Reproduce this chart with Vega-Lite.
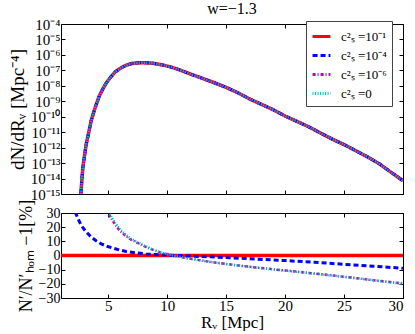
{
  "$schema": "https://vega.github.io/schema/vega-lite/v6.json",
  "padding": {"left": 7, "top": 0, "right": 2, "bottom": 0},
  "spacing": 19,
  "bounds": "flush",
  "config": {
    "font": "Liberation Serif",
    "view": {"stroke": "black", "strokeWidth": 1},
    "axis": {"domain": false, "grid": false, "tickSize": -4, "tickColor": "black", "labelFont": "Liberation Serif", "labelFontSize": 15, "labelColor": "black", "titleFont": "Liberation Serif", "titleFontSize": 18, "titleFontWeight": "normal", "titleColor": "black", "labelOverlap": false, "labelPadding": 5, "minExtent": 0},
    "legend": {"labelFont": "Liberation Serif", "labelFontSize": 13, "labelColor": "black"}
  },
  "datasets": {
    "top": [
      {"x": 2.68, "dn": 1e-15}, {"x": 2.85, "dn": 5.01e-14}, {"x": 3.0, "dn": 3.16e-13}, {"x": 3.14, "dn": 1.70e-12},
      {"x": 3.36, "dn": 1e-11}, {"x": 3.56, "dn": 5.62e-11}, {"x": 3.8, "dn": 2.24e-10}, {"x": 4.0, "dn": 6.61e-10},
      {"x": 4.25, "dn": 2.24e-9}, {"x": 4.55, "dn": 6.31e-9}, {"x": 4.85, "dn": 1.58e-8}, {"x": 5.2, "dn": 3.55e-8},
      {"x": 5.6, "dn": 7.94e-8}, {"x": 6.0, "dn": 1.32e-7}, {"x": 6.5, "dn": 2.09e-7}, {"x": 7.0, "dn": 2.75e-7},
      {"x": 7.6, "dn": 3.16e-7}, {"x": 8.2, "dn": 3.16e-7}, {"x": 8.8, "dn": 2.88e-7}, {"x": 9.5, "dn": 2.34e-7},
      {"x": 10.2, "dn": 1.74e-7}, {"x": 11.0, "dn": 1.12e-7}, {"x": 12.0, "dn": 5.62e-8}, {"x": 13.0, "dn": 3.02e-8},
      {"x": 14.0, "dn": 1.58e-8}, {"x": 15.0, "dn": 7.94e-9}, {"x": 16.0, "dn": 3.55e-9}, {"x": 17.0, "dn": 1.41e-9},
      {"x": 18.0, "dn": 6.31e-10}, {"x": 19.0, "dn": 2.82e-10}, {"x": 20.0, "dn": 1.12e-10}, {"x": 21.0, "dn": 5.01e-11},
      {"x": 22.0, "dn": 2.24e-11}, {"x": 23.0, "dn": 8.91e-12}, {"x": 24.0, "dn": 3.55e-12}, {"x": 25.0, "dn": 1.58e-12},
      {"x": 26.0, "dn": 6.31e-13}, {"x": 27.0, "dn": 2.51e-13}, {"x": 28.0, "dn": 8.91e-14}, {"x": 29.0, "dn": 2.51e-14},
      {"x": 30.0, "dn": 7.24e-15}
    ],
    "bot": [
      {"s": "c²ₛ =10⁻¹", "x": 1, "p": 0}, {"s": "c²ₛ =10⁻¹", "x": 30, "p": 0},
      {"s": "c²ₛ =10⁻⁴", "x": 2.0, "p": 36}, {"s": "c²ₛ =10⁻⁴", "x": 2.23, "p": 30}, {"s": "c²ₛ =10⁻⁴", "x": 2.5, "p": 25},
      {"s": "c²ₛ =10⁻⁴", "x": 2.71, "p": 21.3}, {"s": "c²ₛ =10⁻⁴", "x": 3.1, "p": 17}, {"s": "c²ₛ =10⁻⁴", "x": 3.56, "p": 13},
      {"s": "c²ₛ =10⁻⁴", "x": 4.0, "p": 10.3}, {"s": "c²ₛ =10⁻⁴", "x": 4.41, "p": 8.2}, {"s": "c²ₛ =10⁻⁴", "x": 4.9, "p": 6.5},
      {"s": "c²ₛ =10⁻⁴", "x": 5.4, "p": 5.2}, {"s": "c²ₛ =10⁻⁴", "x": 6.0, "p": 3.8}, {"s": "c²ₛ =10⁻⁴", "x": 6.53, "p": 2.8},
      {"s": "c²ₛ =10⁻⁴", "x": 7.3, "p": 1.9}, {"s": "c²ₛ =10⁻⁴", "x": 8.2, "p": 1.1}, {"s": "c²ₛ =10⁻⁴", "x": 9.0, "p": 0.7},
      {"s": "c²ₛ =10⁻⁴", "x": 9.9, "p": 0.35}, {"s": "c²ₛ =10⁻⁴", "x": 10.7, "p": 0}, {"s": "c²ₛ =10⁻⁴", "x": 12.2, "p": -0.5},
      {"s": "c²ₛ =10⁻⁴", "x": 13.5, "p": -0.9}, {"s": "c²ₛ =10⁻⁴", "x": 15, "p": -1.5}, {"s": "c²ₛ =10⁻⁴", "x": 17.5, "p": -2.5},
      {"s": "c²ₛ =10⁻⁴", "x": 20, "p": -3.6}, {"s": "c²ₛ =10⁻⁴", "x": 22.5, "p": -4.8}, {"s": "c²ₛ =10⁻⁴", "x": 25, "p": -6.2},
      {"s": "c²ₛ =10⁻⁴", "x": 27.5, "p": -7.6}, {"s": "c²ₛ =10⁻⁴", "x": 30, "p": -9.0},
      {"s": "c²ₛ =10⁻⁶", "x": 4.75, "p": 34}, {"s": "c²ₛ =10⁻⁶", "x": 4.97, "p": 30}, {"s": "c²ₛ =10⁻⁶", "x": 5.5, "p": 23},
      {"s": "c²ₛ =10⁻⁶", "x": 5.96, "p": 17.7}, {"s": "c²ₛ =10⁻⁶", "x": 6.4, "p": 14.5}, {"s": "c²ₛ =10⁻⁶", "x": 6.81, "p": 11.8},
      {"s": "c²ₛ =10⁻⁶", "x": 7.4, "p": 9.2}, {"s": "c²ₛ =10⁻⁶", "x": 7.94, "p": 7.1}, {"s": "c²ₛ =10⁻⁶", "x": 8.6, "p": 4.6},
      {"s": "c²ₛ =10⁻⁶", "x": 9.35, "p": 2.3}, {"s": "c²ₛ =10⁻⁶", "x": 10.0, "p": 1.0}, {"s": "c²ₛ =10⁻⁶", "x": 10.5, "p": 0},
      {"s": "c²ₛ =10⁻⁶", "x": 11.3, "p": -1.3}, {"s": "c²ₛ =10⁻⁶", "x": 12.2, "p": -2.6}, {"s": "c²ₛ =10⁻⁶", "x": 13.5, "p": -4.3},
      {"s": "c²ₛ =10⁻⁶", "x": 15, "p": -6.0}, {"s": "c²ₛ =10⁻⁶", "x": 17.5, "p": -8.4}, {"s": "c²ₛ =10⁻⁶", "x": 20, "p": -10.6},
      {"s": "c²ₛ =10⁻⁶", "x": 22.5, "p": -12.7}, {"s": "c²ₛ =10⁻⁶", "x": 25, "p": -15.0}, {"s": "c²ₛ =10⁻⁶", "x": 27.5, "p": -17.4},
      {"s": "c²ₛ =10⁻⁶", "x": 30, "p": -19.8},
      {"s": "c²ₛ =0", "x": 4.85, "p": 34}, {"s": "c²ₛ =0", "x": 5.08, "p": 30}, {"s": "c²ₛ =0", "x": 5.6, "p": 23},
      {"s": "c²ₛ =0", "x": 6.05, "p": 18}, {"s": "c²ₛ =0", "x": 6.5, "p": 14.7}, {"s": "c²ₛ =0", "x": 6.9, "p": 12},
      {"s": "c²ₛ =0", "x": 7.5, "p": 9.3}, {"s": "c²ₛ =0", "x": 8.0, "p": 7.2}, {"s": "c²ₛ =0", "x": 8.7, "p": 4.6},
      {"s": "c²ₛ =0", "x": 9.4, "p": 2.3}, {"s": "c²ₛ =0", "x": 10.0, "p": 1.0}, {"s": "c²ₛ =0", "x": 10.5, "p": 0},
      {"s": "c²ₛ =0", "x": 11.3, "p": -1.4}, {"s": "c²ₛ =0", "x": 12.2, "p": -2.7}, {"s": "c²ₛ =0", "x": 13.5, "p": -4.4},
      {"s": "c²ₛ =0", "x": 15, "p": -6.1}, {"s": "c²ₛ =0", "x": 17.5, "p": -8.5}, {"s": "c²ₛ =0", "x": 20, "p": -10.7},
      {"s": "c²ₛ =0", "x": 22.5, "p": -12.8}, {"s": "c²ₛ =0", "x": 25, "p": -15.1}, {"s": "c²ₛ =0", "x": 27.5, "p": -17.5},
      {"s": "c²ₛ =0", "x": 30, "p": -20.0}
    ]
  },
  "vconcat": [
    {
      "width": 342,
      "height": 170,
      "title": {"text": "w=−1.3", "fontSize": 16, "font": "Liberation Serif", "fontWeight": "normal", "color": "black", "offset": 0, "anchor": "middle"},
      "data": {"name": "top"},
      "layer": [
        {
          "mark": {"type": "line", "color": "#ff0000", "strokeWidth": 3.5, "clip": true},
          "encoding": {
            "x": {"field": "x", "type": "quantitative", "scale": {"domain": [1, 30], "nice": false}, "axis": {"orient": "bottom", "labels": false, "title": null, "values": [5, 10, 15, 20, 25, 30]}},
            "y": {"field": "dn", "type": "quantitative", "scale": {"type": "log", "domain": [1e-15, 1e-4], "nice": false}, "axis": {"orient": "left", "title": "dN/dRᵥ [Mpc⁻⁴]", "titleFontSize": 19, "titlePadding": 3, "values": [1e-15, 1e-14, 1e-13, 1e-12, 1e-11, 1e-10, 1e-9, 1e-8, 1e-7, 1e-6, 1e-5, 1e-4], "labelExpr": "'10' + ['⁰','⁻¹','⁻²','⁻³','⁻⁴','⁻⁵','⁻⁶','⁻⁷','⁻⁸','⁻⁹','⁻¹⁰','⁻¹¹','⁻¹²','⁻¹³','⁻¹⁴','⁻¹⁵'][round(-log(datum.value)/LN10)]"}}
          }
        },
        {
          "mark": {"type": "line", "color": "#0000ff", "strokeWidth": 3, "strokeDash": [5, 3], "clip": true},
          "encoding": {
            "x": {"field": "x", "type": "quantitative", "axis": {"orient": "top", "labels": false, "title": null, "values": [5, 10, 15, 20, 25, 30]}},
            "y": {"field": "dn", "type": "quantitative", "axis": {"orient": "right", "labels": false, "title": null, "values": [1e-15, 1e-14, 1e-13, 1e-12, 1e-11, 1e-10, 1e-9, 1e-8, 1e-7, 1e-6, 1e-5, 1e-4]}}
          }
        },
        {
          "mark": {"type": "line", "color": "#bf00bf", "strokeWidth": 2.5, "strokeDash": [3, 2, 1, 2], "clip": true},
          "encoding": {
            "x": {"field": "x", "type": "quantitative", "axis": null},
            "y": {"field": "dn", "type": "quantitative", "axis": null}
          }
        },
        {
          "mark": {"type": "line", "color": "#00bfbf", "strokeWidth": 2.5, "strokeDash": [1, 1.5], "clip": true},
          "encoding": {
            "x": {"field": "x", "type": "quantitative", "axis": null},
            "y": {"field": "dn", "type": "quantitative", "axis": null}
          }
        }
      ],
      "resolve": {"axis": {"x": "independent", "y": "independent"}}
    },
    {
      "width": 342,
      "height": 85,
      "data": {"name": "bot"},
      "encoding": {
        "color": {"field": "s", "type": "nominal", "scale": {"domain": ["c²ₛ =10⁻¹", "c²ₛ =10⁻⁴", "c²ₛ =10⁻⁶", "c²ₛ =0"], "range": ["#ff0000", "#0000ff", "#bf00bf", "#00bfbf"]},
          "legend": {"orient": "none", "legendX": 245, "legendY": -3, "title": null, "fillColor": "white", "strokeColor": "#444", "padding": 5, "symbolType": "stroke", "symbolSize": 320, "symbolStrokeWidth": 3, "labelOffset": 9, "rowPadding": 1, "labelFontSize": 13}},
        "strokeDash": {"field": "s", "type": "nominal", "scale": {"domain": ["c²ₛ =10⁻¹", "c²ₛ =10⁻⁴", "c²ₛ =10⁻⁶", "c²ₛ =0"], "range": [[1, 0], [5, 3], [3, 2, 1, 2], [1, 1.5]]}, "legend": {"orient": "none", "legendX": 245, "legendY": -3, "title": null, "fillColor": "white", "strokeColor": "#444", "padding": 5, "symbolType": "stroke", "symbolSize": 320, "symbolStrokeWidth": 3, "labelOffset": 9, "rowPadding": 1, "labelFontSize": 13}}
      },
      "layer": [
        {
          "transform": [{"filter": "datum.s == 'c²ₛ =10⁻¹'"}],
          "mark": {"type": "line", "strokeWidth": 3.5, "clip": true},
          "encoding": {
            "x": {"field": "x", "type": "quantitative", "scale": {"domain": [1, 30], "nice": false}, "axis": {"orient": "bottom", "title": "Rᵥ [Mpc]", "titleFontSize": 17, "values": [5, 10, 15, 20, 25, 30], "titlePadding": 1, "labelPadding": 4}},
            "y": {"field": "p", "type": "quantitative", "scale": {"domain": [-30, 30], "nice": false}, "axis": {"orient": "left", "title": "N′/N′ₕₒₘ −1[%]", "values": [-30, -20, -10, 0, 10, 20, 30], "titlePadding": 3, "labelFontSize": 14}}
          }
        },
        {
          "transform": [{"filter": "datum.s == 'c²ₛ =10⁻⁴'"}],
          "mark": {"type": "line", "strokeWidth": 3, "clip": true},
          "encoding": {
            "x": {"field": "x", "type": "quantitative", "axis": {"orient": "top", "labels": false, "title": null, "values": [5, 10, 15, 20, 25, 30]}},
            "y": {"field": "p", "type": "quantitative", "axis": {"orient": "right", "labels": false, "title": null, "values": [-30, -20, -10, 0, 10, 20, 30]}}
          }
        },
        {
          "transform": [{"filter": "datum.s == 'c²ₛ =10⁻⁶'"}],
          "mark": {"type": "line", "strokeWidth": 2.5, "clip": true},
          "encoding": {
            "x": {"field": "x", "type": "quantitative", "axis": null},
            "y": {"field": "p", "type": "quantitative", "axis": null}
          }
        },
        {
          "transform": [{"filter": "datum.s == 'c²ₛ =0'"}],
          "mark": {"type": "line", "strokeWidth": 2.5, "clip": true},
          "encoding": {
            "x": {"field": "x", "type": "quantitative", "axis": null},
            "y": {"field": "p", "type": "quantitative", "axis": null}
          }
        }
      ],
      "resolve": {"axis": {"x": "independent", "y": "independent"}}
    }
  ]
}
